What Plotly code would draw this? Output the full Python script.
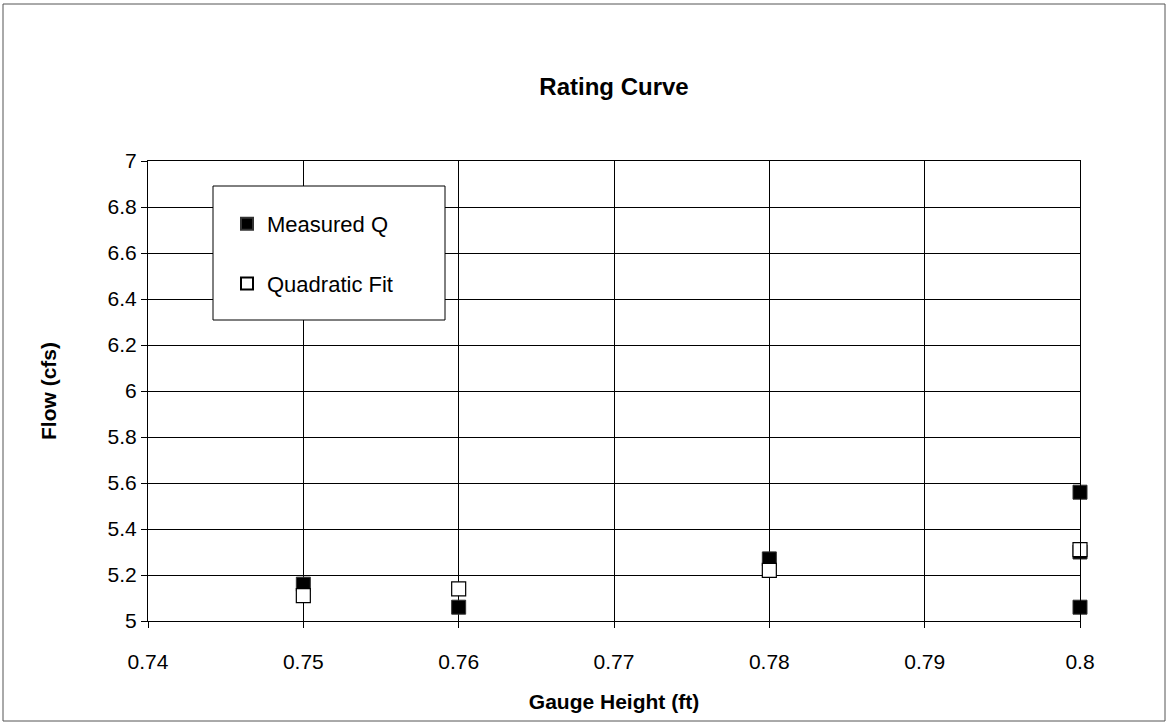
import plotly.graph_objects as go

# Data
measured_gauge = [0.75, 0.76, 0.78, 0.80, 0.80, 0.80]
measured_q = [5.16, 5.06, 5.27, 5.56, 5.30, 5.06]
fit_gauge = [0.75, 0.76, 0.78, 0.80]
fit_q = [5.11, 5.14, 5.22, 5.31]

x_ticks = [0.74, 0.75, 0.76, 0.77, 0.78, 0.79, 0.80]
x_tick_labels = ["0.74", "0.75", "0.76", "0.77", "0.78", "0.79", "0.8"]
y_ticks = [5, 5.2, 5.4, 5.6, 5.8, 6, 6.2, 6.4, 6.6, 6.8, 7]
y_tick_labels = ["5", "5.2", "5.4", "5.6", "5.8", "6", "6.2", "6.4", "6.6", "6.8", "7"]

FONT = "Liberation Sans, Arial, sans-serif"

fig = go.Figure()
fig.add_trace(go.Scatter(
    x=measured_gauge, y=measured_q, mode="markers", name="Measured Q",
    legendgroup="a", cliponaxis=False,
    marker=dict(symbol="square", size=14, color="black",
                line=dict(color="#333333", width=1)),
))
fig.add_trace(go.Scatter(
    x=fit_gauge, y=fit_q, mode="markers", name="Quadratic Fit",
    legendgroup="b", cliponaxis=False,
    marker=dict(symbol="square", size=14, color="white",
                line=dict(color="black", width=1.2)),
))

L, R, T, B = 148, 1080, 161, 621
W, H = 1167, 723
pw, ph = R - L, B - T

def px(xp):
    return (xp - L) / pw

def py(yp):
    return (B - yp) / ph

fig.update_layout(
    width=W, height=H,
    margin=dict(l=L, r=W - R, t=T, b=H - B),
    paper_bgcolor="white", plot_bgcolor="white",
    font=dict(family=FONT, size=21, color="black"),
    title=dict(text="<b>Rating Curve</b>", x=0.5, xref="paper",
               y=1 - 87 / H, yref="container", yanchor="middle",
               xanchor="center", font=dict(size=24, family=FONT)),
    showlegend=True,
    legend=dict(x=px(227), y=py(203), xanchor="left", yanchor="top",
                borderwidth=0, bgcolor="rgba(0,0,0,0)",
                font=dict(size=22, family=FONT), tracegroupgap=28,
                itemsizing="constant"),
    xaxis=dict(range=[0.74, 0.80], tickvals=x_ticks, ticktext=x_tick_labels,
               showgrid=True, gridcolor="black", gridwidth=1,
               showline=True, linecolor="black", linewidth=1, mirror=True,
               ticks="outside", ticklen=6, tickcolor="black",
               ticklabelstandoff=16,
               zeroline=False,
               title=dict(text="<b>Gauge Height (ft)</b>", standoff=22,
                          font=dict(size=21, family=FONT))),
    yaxis=dict(range=[5, 7], tickvals=y_ticks, ticktext=y_tick_labels,
               showgrid=True, gridcolor="black", gridwidth=1,
               showline=True, linecolor="black", linewidth=1, mirror=True,
               ticks="outside", ticklen=6, tickcolor="black",
               zeroline=False,
               title=dict(text="<b>Flow (cfs)</b>", standoff=45,
                          font=dict(size=21, family=FONT))),
    shapes=[
        dict(type="rect", xref="paper", yref="paper",
             x0=px(3), x1=px(1165), y0=py(4), y1=py(721),
             line=dict(color="#555555", width=1), layer="below"),
        dict(type="rect", xref="paper", yref="paper",
             x0=px(213), x1=px(445), y0=py(186), y1=py(320),
             line=dict(color="black", width=1), fillcolor="white",
             layer="above"),
    ],
)

fig.write_html("out.html", config={"displayModeBar": False},
               post_script="document.body.style.margin='0';")
